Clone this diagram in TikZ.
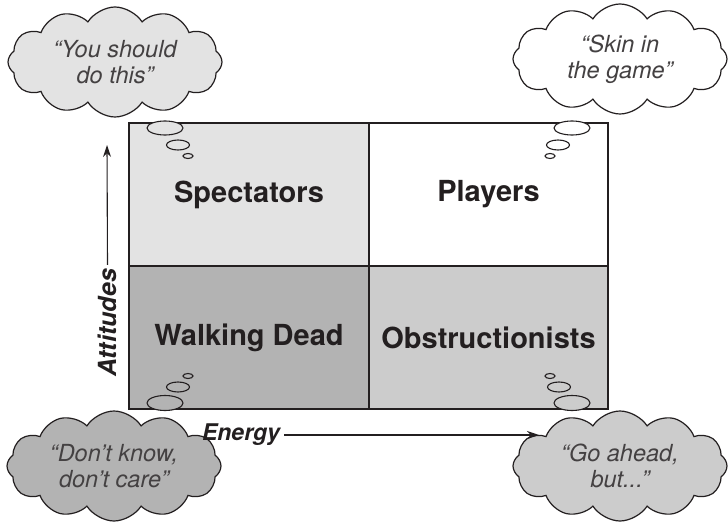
\documentclass[tikz,border=0pt]{standalone}
\usepackage{fontspec}
\setmainfont{TeX Gyre Heros}
\usetikzlibrary{shapes.symbols,shapes.geometric,arrows.meta}
\definecolor{ink}{HTML}{231F20}
\definecolor{paleq}{HTML}{E3E3E3}
\definecolor{midq}{HTML}{CCCCCC}
\definecolor{darkq}{HTML}{B3B3B3}
\begin{document}
\begin{tikzpicture}[x=1pt,y=-1pt,
  quad/.style={draw=ink, line width=1.3pt, inner sep=0pt, minimum height=143pt,
    text=ink, font=\fontsize{29}{32}\selectfont\bfseries},
  thought/.style={cloud, cloud puffs=12, cloud puff arc=115, cloud ignores aspect,
    draw=ink, line width=1.2pt, inner sep=0pt,
    minimum width=214pt, minimum height=110pt, align=center, text=ink!85,
    font=\fontsize{23.5}{26}\selectfont\itshape},
  bubble/.style={ellipse, draw=ink, line width=1.1pt, inner sep=0pt},
  axislabel/.style={text=ink, inner sep=4pt, font=\fontsize{23}{26}\selectfont\bfseries\itshape},
  axisarrow/.style={draw=ink, line width=1.1pt, -{Stealth[length=12pt,width=8pt]}}]
\useasboundingbox (0,0) rectangle (728,524);

% the four quadrants
\node[quad, fill=paleq, minimum width=240pt] (spec) at (249,194.5) {Spectators};
\node[quad, fill=white, minimum width=239pt] (play) at (488.5,194.5) {Players};
\node[quad, fill=darkq, minimum width=240pt] (dead) at (249,337.5) {Walking Dead};
\node[quad, fill=midq, minimum width=239pt] (obst) at (488.5,337.5) {Obstructionists};

% thought bubbles rising from the corners
\node[bubble, fill=paleq, minimum width=36pt, minimum height=14pt] (tl1) at (165,128) {};
\node[bubble, fill=paleq, minimum width=23pt, minimum height=10pt] (tl2) at (178,145) {};
\node[bubble, fill=paleq, minimum width=10pt, minimum height=5pt] (tl3) at (188,156) {};

\node[bubble, fill=white, minimum width=36pt, minimum height=14pt] (tr1) at (572,128) {};
\node[bubble, fill=white, minimum width=23pt, minimum height=10pt] (tr2) at (558,145) {};
\node[bubble, fill=white, minimum width=10pt, minimum height=5pt] (tr3) at (550,156) {};

\node[bubble, fill=darkq, minimum width=36pt, minimum height=15pt] (bl1) at (165,403) {};
\node[bubble, fill=darkq, minimum width=23pt, minimum height=10pt] (bl2) at (178,387) {};
\node[bubble, fill=darkq, minimum width=10pt, minimum height=5pt] (bl3) at (188,376) {};

\node[bubble, fill=midq, minimum width=36pt, minimum height=15pt] (br1) at (572,403) {};
\node[bubble, fill=midq, minimum width=23pt, minimum height=10pt] (br2) at (559,387) {};
\node[bubble, fill=midq, minimum width=10pt, minimum height=5pt] (br3) at (550,376) {};

% clouds
\node[thought, fill=paleq] (say) at (115,62) {\textquotedblleft You should\\do this\textquotedblright};
\node[thought, fill=white] (skin) at (620,59) {\textquotedblleft Skin in\\the game\textquotedblright};
\node[thought, fill=darkq] (dont) at (114,466) {\textquotedblleft Don't know,\\don't care\textquotedblright};
\node[thought, fill=midq] (goah) at (620,466) {\textquotedblleft Go ahead,\\but...\textquotedblright};

% axes
\node[axislabel, rotate=90, font=\fontsize{25}{28}\selectfont\bfseries\itshape] (att) at (107.5,323) {Attitudes};
\coordinate (atttip) at (107,145);
\draw[axisarrow] (att.east) -- (atttip);

\node[axislabel] (ene) at (241,435) {Energy};
\coordinate (enetip) at (539,435);
\draw[axisarrow] (ene.east) -- (enetip);
\end{tikzpicture}
\end{document}
